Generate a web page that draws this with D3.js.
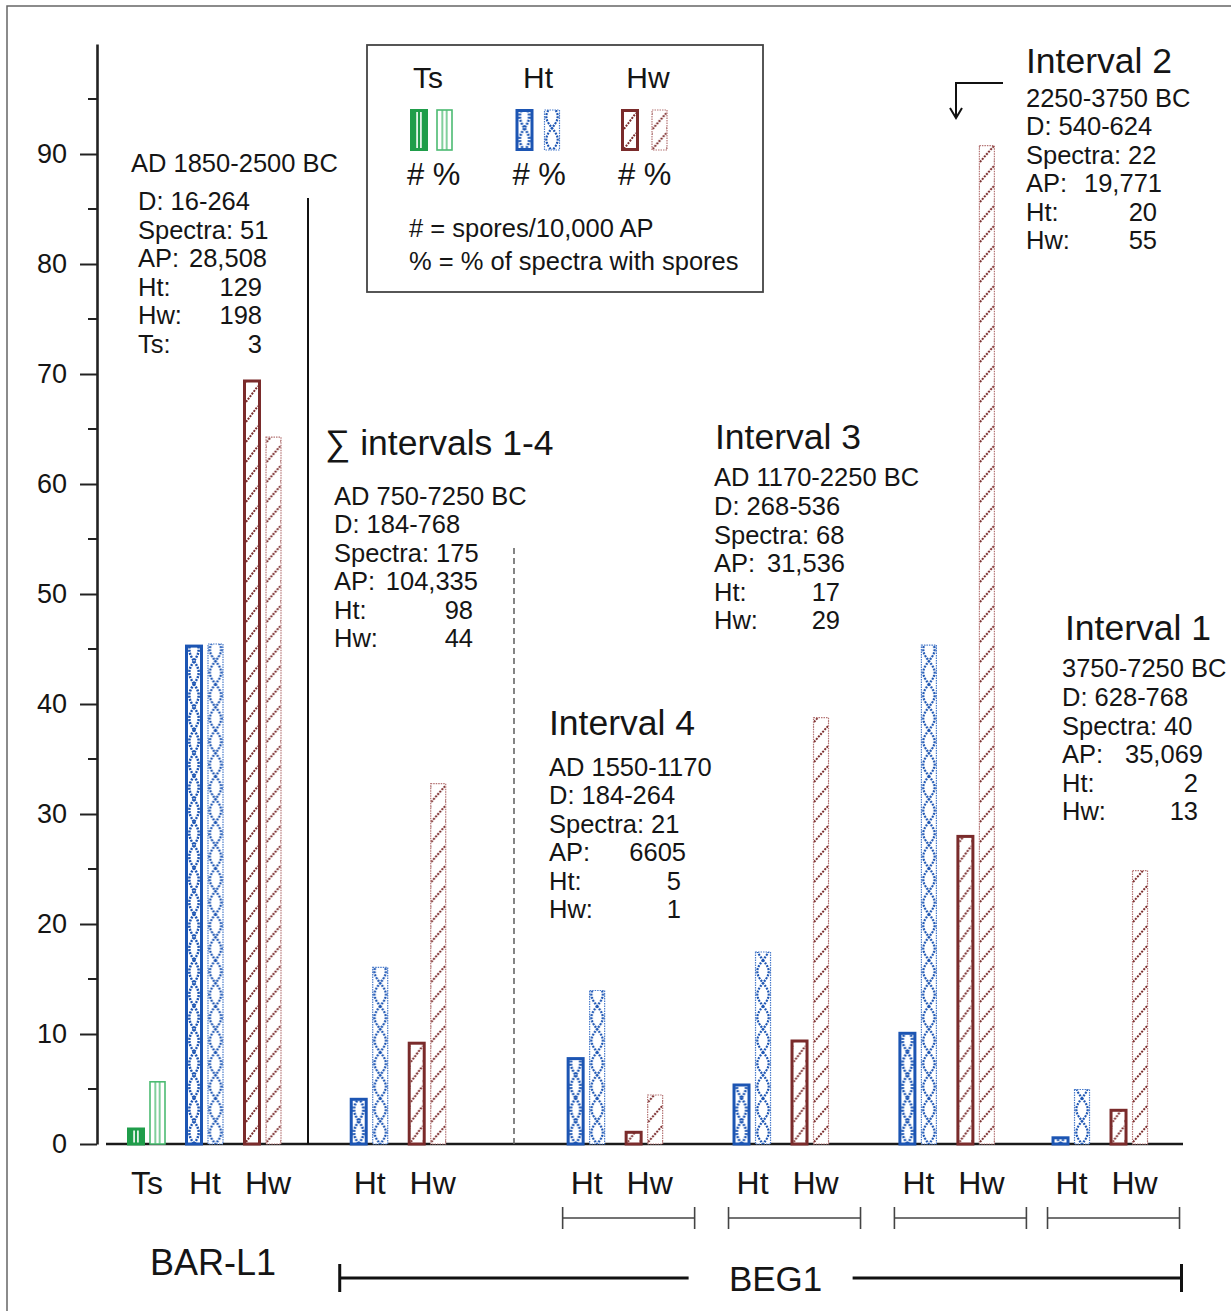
<!DOCTYPE html>
<html><head><meta charset="utf-8">
<script src="https://cdn.jsdelivr.net/npm/d3@7"></script>
<style>
body{margin:0;background:#fff}
svg{display:block}
text{font-family:"Liberation Sans",Arial,Helvetica,sans-serif;fill:#151515}
</style>
</head><body>
<svg id="c" width="1231" height="1311"></svg>
<script>
// ---------------- DATA ----------------
const groups = ["BAR-L1", "Sum 1-4", "Interval 4", "Interval 3", "Interval 2", "Interval 1"];
const groupSpecies = [["Ts","Ht","Hw"],["Ht","Hw"],["Ht","Hw"],["Ht","Hw"],["Ht","Hw"],["Ht","Hw"]];
// # = spores / 10,000 AP
const sporesPer10kAP = [[1.5,45.4,69.5],[4.2,9.3],[7.9,1.2],[5.5,9.5],[10.2,28.1],[0.7,3.2]];
// % = % of spectra with spores
const pctSpectraWithSpores = [[5.7,45.5,64.3],[16.1,32.8],[14.0,4.5],[17.5,38.8],[45.4,90.8],[5.0,24.9]];
const yTickValues = [0,10,20,30,40,50,60,70,80,90];
const yMinorTicks = [5,15,25,35,45,55,65,75,85,95];
const legendSpecies = ["Ts","Ht","Hw"];
const legendNotes = ["# = spores/10,000 AP", "% = % of spectra with spores"];
const blockTitles = [null, "\u2211 intervals 1-4", "Interval 4", "Interval 3", "Interval 2", "Interval 1"];
const blockPeriods = ["AD 1850-2500 BC","AD 750-7250 BC","AD 1550-1170","AD 1170-2250 BC","2250-3750 BC","3750-7250 BC"];
const blockDepths = ["16-264","184-768","184-264","268-536","540-624","628-768"];
const blockSpectra = ["51","175","21","68","22","40"];
const blockAP = ["28,508","104,335","6605","31,536","19,771","35,069"];
const blockHt = ["129","98","5","17","20","2"];
const blockHw = ["198","44","1","29","55","13"];
const blockTs = ["3",null,null,null,null,null];
const siteLabels = ["BAR-L1","BEG1"];

// ---------------- LAYOUT ----------------
const svg = d3.select("#c");
const y = d3.scaleLinear().domain([0,100]).range([1144,44]);
const groupGaps = [0,0.84,1.74,0.86,0.86,0.64];
let u = 0; const cats = [];
groups.forEach((g,gi)=>{
  if (gi>0) u += 1 + groupGaps[gi];
  groupSpecies[gi].forEach((s,si)=>{
    if (si>0) u += 1;
    cats.push({g, gi, s, si, u, n: sporesPer10kAP[gi][si], p: pctSpectraWithSpores[gi][si]});
  });
});
const x = d3.scaleLinear().domain([0,1]).range([147,205]);
const col = {
  Ts:{dark:"#1f9d4a", light:"#4cbb72"},
  Ht:{dark:"#1c55b3", light:"#4a7ccc"},
  Hw:{dark:"#7a2b2b", light:"#b57575"}
};
const font = '"Liberation Sans",Arial,Helvetica,sans-serif';

// frame
svg.append("rect").attr("x",7).attr("y",6).attr("width",1260).attr("height",1320)
  .attr("fill","none").attr("stroke","#666").attr("stroke-width",1.5);

const defs = svg.append("defs");
let pid = 0;
function makePattern(species, kind, x0, w, yBase) {
  const id = "p" + (pid++);
  const c = kind === "n" ? col[species].dark : col[species].light;
  const pc = col[species].dark;
  if (species === "Ts") {
    const p = defs.append("pattern").attr("id",id).attr("patternUnits","userSpaceOnUse")
      .attr("x",x0).attr("y",0).attr("width",w).attr("height",10);
    if (kind === "n") {
      p.append("rect").attr("width",w).attr("height",10).attr("fill",c);
      [0.34,0.66].forEach(f=>p.append("rect").attr("x",w*f-0.8).attr("width",1.6).attr("height",10).attr("fill","#fff"));
    } else {
      p.append("rect").attr("width",w).attr("height",10).attr("fill","#fff");
      [0.34,0.66].forEach(f=>p.append("rect").attr("x",w*f-0.7).attr("width",1.4).attr("height",10).attr("fill",c));
    }
  } else if (species === "Ht") {
    const T = 46;
    const p = defs.append("pattern").attr("id",id).attr("patternUnits","userSpaceOnUse")
      .attr("x",x0).attr("y",yBase).attr("width",w).attr("height",T);
    p.append("rect").attr("width",w).attr("height",T).attr("fill","#fff");
    const a = w/2 - 1.3;
    [1,-1].forEach(sg=>{
      const pts = d3.range(0,T+0.5,1).map(t=>[w/2 + sg*a*Math.sin(2*Math.PI*t/T), t]);
      p.append("path").attr("d",d3.line()(pts)).attr("fill","none").attr("stroke",pc)
        .attr("stroke-width",kind==="n"?2.5:2.2).attr("stroke-dasharray","2 1.2");
    });
  } else {
    const T = 20;
    const p = defs.append("pattern").attr("id",id).attr("patternUnits","userSpaceOnUse")
      .attr("x",x0).attr("y",yBase).attr("width",w).attr("height",T);
    p.append("rect").attr("width",w).attr("height",T).attr("fill","#fff");
    p.append("line").attr("x1",0).attr("y1",18).attr("x2",w).attr("y2",2)
      .attr("stroke",pc).attr("stroke-width",2).attr("stroke-dasharray","2 1.2");
  }
  return "url(#" + id + ")";
}

// ---------------- AXIS ----------------
const axisG = svg.append("g").attr("transform","translate(97,0)")
  .call(d3.axisLeft(y).tickValues(yTickValues).tickSize(17).tickSizeOuter(0).tickPadding(13));
axisG.select(".domain").attr("stroke","#222").attr("stroke-width",2.6);
axisG.selectAll(".tick line").attr("stroke","#222").attr("stroke-width",2);
axisG.selectAll(".tick text").attr("font-family",font).attr("font-size",27).attr("fill","#222");
axisG.selectAll(".minor").data(yMinorTicks).enter().append("line")
  .attr("x1",-9).attr("x2",0).attr("y1",d=>y(d)).attr("y2",d=>y(d))
  .attr("stroke","#222").attr("stroke-width",2);

// baseline
svg.append("line").attr("x1",106).attr("x2",1183).attr("y1",y(0)).attr("y2",y(0))
  .attr("stroke","#1a1a1a").attr("stroke-width",2.6);

// ---------------- BARS ----------------
const barG = svg.append("g");
cats.forEach(d=>{
  const c = x(d.u);
  // # bar
  const nx = c-18.5, nw = 15, ny = y(d.n)+1.5, nh = y(0)-y(d.n)-1.5;
  barG.append("rect").attr("x",nx).attr("y",ny).attr("width",nw).attr("height",nh)
    .attr("fill",makePattern(d.s,"n",nx+1.5,nw-3,y(0)))
    .attr("stroke",col[d.s].dark).attr("stroke-width",3);
  // % bar
  const px = c+3, pw = 15, py = y(d.p)+0.5, ph = y(0)-y(d.p)-0.5;
  barG.append("rect").attr("x",px).attr("y",py).attr("width",pw).attr("height",ph)
    .attr("fill",makePattern(d.s,"p",px+0.5,pw-1,y(0)))
    .attr("stroke",col[d.s].light).attr("stroke-width",d.s==="Ts"?1.6:1.2)
    .attr("stroke-dasharray",d.s==="Ts"?null:"1.5 1");
  // category label
  svg.append("text").attr("x",c+(d.s==="Hw"?5:0)).attr("y",1194).attr("text-anchor","middle")
    .attr("font-size",32).text(d.s);
});

// separators
svg.append("line").attr("x1",308).attr("x2",308).attr("y1",198).attr("y2",y(0))
  .attr("stroke","#111").attr("stroke-width",2);
svg.append("line").attr("x1",514).attr("x2",514).attr("y1",548).attr("y2",y(0))
  .attr("stroke","#666").attr("stroke-width",1.6).attr("stroke-dasharray","6 4");

// ---------------- ANNOTATIONS ----------------
const blockLayout = [
  {hx:131, hy:172, lx:138, ly:210, r:262},
  {tx:325, ty:455, hx:334, hy:505, lx:334, ly:533, r:473},
  {tx:549, ty:735, hx:549, hy:776, lx:549, ly:804, r:681},
  {tx:715, ty:449, hx:714, hy:486, lx:714, ly:515, r:840},
  {tx:1026, ty:73, hx:1026, hy:107, lx:1026, ly:135, r:1157},
  {tx:1065, ty:640, hx:1062, hy:677, lx:1062, ly:706, r:1198}
];
const step = 28.6;
blockLayout.forEach((L,i)=>{
  const g = svg.append("g").attr("font-size",25.5);
  if (blockTitles[i]) g.append("text").attr("x",L.tx).attr("y",L.ty).attr("font-size",35.5).text(blockTitles[i]);
  g.append("text").attr("x",L.hx).attr("y",L.hy).text(blockPeriods[i]);
  g.append("text").attr("x",L.lx).attr("y",L.ly).text("D: " + blockDepths[i]);
  g.append("text").attr("x",L.lx).attr("y",L.ly+step).text("Spectra: " + blockSpectra[i]);
  const rows = [["AP:",blockAP[i],5],["Ht:",blockHt[i],0],["Hw:",blockHw[i],0]];
  if (blockTs[i]) rows.push(["Ts:",blockTs[i],0]);
  rows.forEach((r,k)=>{
    const yy = L.ly + step*(k+2);
    g.append("text").attr("x",L.lx).attr("y",yy).text(r[0]);
    g.append("text").attr("x",L.r + r[2]).attr("y",yy).attr("text-anchor","end").text(r[1]);
  });
});
// arrow to Interval 2 bar
svg.append("path").attr("d","M1003,83H956V117").attr("fill","none").attr("stroke","#111").attr("stroke-width",2);
svg.append("path").attr("d","M950,108L956,118L962,108").attr("fill","none").attr("stroke","#111").attr("stroke-width",2);

// ---------------- LEGEND ----------------
svg.append("rect").attr("x",367).attr("y",45).attr("width",396).attr("height",247)
  .attr("fill","#fff").attr("stroke","#444").attr("stroke-width",1.8);
const lx = d3.scalePoint().domain(legendSpecies).range([410,621]);
legendSpecies.forEach((s,i)=>{
  const x0 = lx(s);
  svg.append("text").attr("x",x0+18+i*4.5).attr("y",88).attr("text-anchor","middle").attr("font-size",30).text(s);
  svg.append("rect").attr("x",x0+1.5).attr("y",110.5).attr("width",15).attr("height",39)
    .attr("fill",makePattern(s,"n",x0+3,12,151)).attr("stroke",col[s].dark).attr("stroke-width",3);
  svg.append("rect").attr("x",x0+27+i*2).attr("y",110).attr("width",15).attr("height",40)
    .attr("fill",makePattern(s,"p",x0+27.5+i*2,14,151)).attr("stroke",col[s].light)
    .attr("stroke-width",s==="Ts"?1.6:1.2).attr("stroke-dasharray",s==="Ts"?null:"1.5 1");
  svg.append("text").attr("x",x0-3).attr("y",185).attr("font-size",31).attr("xml:space","preserve").text("# %");
});
legendNotes.forEach((t,i)=>{
  svg.append("text").attr("x",409).attr("y",237+33*i).attr("font-size",25.5).text(t);
});

// ---------------- BOTTOM GROUP LABELS ----------------
const gc = gi => { const cs = cats.filter(d=>d.gi===gi); return (x(cs[0].u)+x(cs[cs.length-1].u))/2; };
let bracketRight = 0;
[2,3,4,5].forEach(gi=>{
  const c = gc(gi) + 13;
  const a = c-66, b = c+66; bracketRight = b;
  const g = svg.append("g").attr("stroke","#444").attr("stroke-width",1.6);
  g.append("line").attr("x1",a).attr("x2",b).attr("y1",1218).attr("y2",1218);
  g.append("line").attr("x1",a).attr("x2",a).attr("y1",1207).attr("y2",1229);
  g.append("line").attr("x1",b).attr("x2",b).attr("y1",1207).attr("y2",1229);
});
svg.append("text").attr("x",gc(0)+8).attr("y",1275).attr("text-anchor","middle").attr("font-size",36).text(siteLabels[0]);
const begL = x(cats.find(d=>d.gi===1).u) - 30, begR = bracketRight + 2;
const begC = (begL+begR)/2 + 15;
svg.append("text").attr("x",begC).attr("y",1291).attr("text-anchor","middle").attr("font-size",35).text(siteLabels[1]);
const bg = svg.append("g").attr("stroke","#111").attr("stroke-width",3);
bg.append("line").attr("x1",begL).attr("x2",begC-87).attr("y1",1278).attr("y2",1278);
bg.append("line").attr("x1",begC+77).attr("x2",begR).attr("y1",1278).attr("y2",1278);
bg.append("line").attr("x1",begL).attr("x2",begL).attr("y1",1264).attr("y2",1292);
bg.append("line").attr("x1",begR).attr("x2",begR).attr("y1",1264).attr("y2",1292);
</script>
</body></html>
